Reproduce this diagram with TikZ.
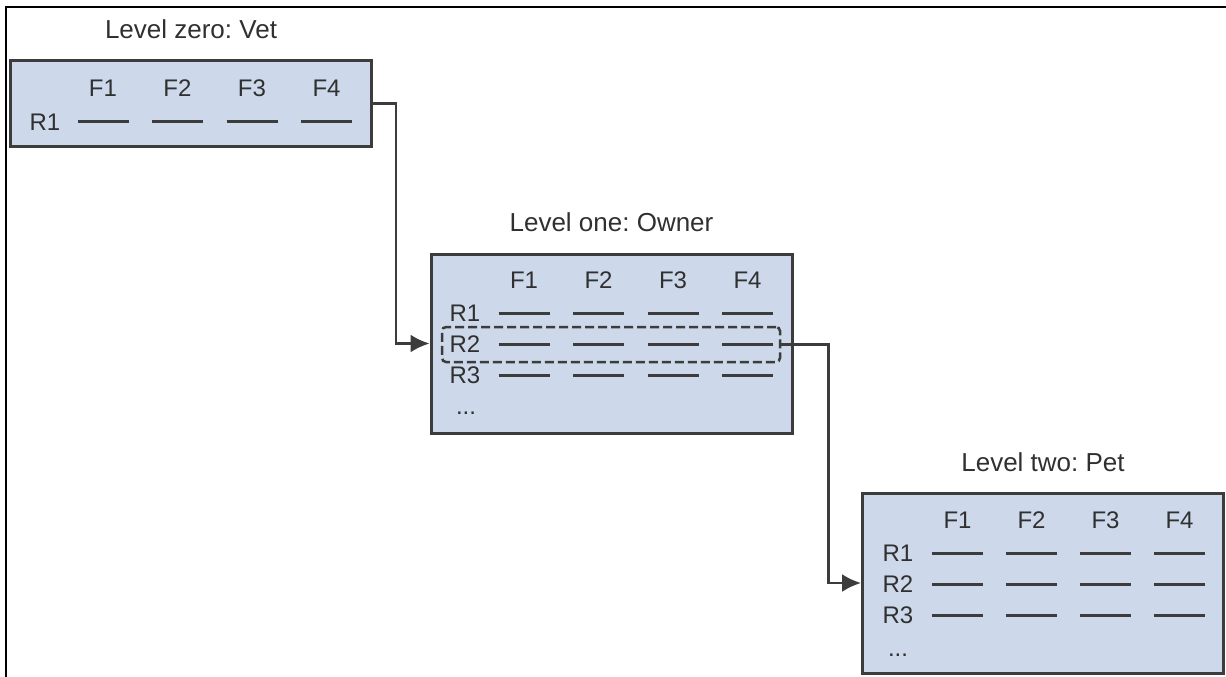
\documentclass[tikz,border=0pt]{standalone}
\usepackage{fontspec}
\setmainfont{Liberation Sans}
\usetikzlibrary{arrows.meta,positioning}
\definecolor{boxfill}{HTML}{CDD9EA}
\definecolor{boxline}{HTML}{3C3C3C}
\definecolor{txt}{HTML}{303030}
\tikzset{
  level/.style={draw=boxline, fill=boxfill, line width=3pt, minimum width=361pt, inner sep=0pt},
  title/.style={text=txt, font=\fontsize{26}{30}\selectfont, anchor=base},
  lbl/.style={text=txt, font=\fontsize{24}{28}\selectfont, inner sep=0pt},
  field/.style={draw=boxline, line width=3pt},
  pick/.style={draw=boxline, line width=2.5pt, dash pattern=on 9pt off 4pt, rounded corners=4pt, minimum width=338pt, minimum height=35pt, inner sep=0pt},
  link/.style={draw=boxline, line width=2.5pt, -{Latex[length=19pt,width=18pt]}}
}
\begin{document}
\frenchspacing
\begin{tikzpicture}[x=1pt,y=-1pt]
\useasboundingbox (0,0) rectangle (1226,677);
\draw[line width=2.5pt] (6,677) -- (6,7) -- (1226,7);

\node[level, minimum height=85pt] (vet) at (191,103.5) {};
\node[level, minimum height=179pt] (owner) at (611.5,343.5) {};
\node[level, minimum height=180pt] (pet) at (1043,583) {};

\node[title] (vettitle) at (191,39) {Level zero: Vet};
\node[title] (ownertitle) at (611.5,231) {Level one: Owner};
\node[title] (pettitle) at (1043,471) {Level two: Pet};

\node[lbl] (vetR1) at (45,122) {R1};
\foreach \i in {1,...,4} {
  \node[lbl] (vetF\i) at (28.5+74.5*\i,88) {F\i};
  \draw[field] (3+74.5*\i,121) -- (54+74.5*\i,121);
}

\node[pick] (sel) at (611,344.5) {};
\foreach \j in {1,2,3} {
  \node[lbl] (ownerR\j) at (465,282+31*\j) {R\j};
  \foreach \i in {1,...,4}
    \draw[field] (424+74.5*\i,282+31*\j) -- (475+74.5*\i,282+31*\j);
}
\foreach \i in {1,...,4}
  \node[lbl] (ownerF\i) at (449.5+74.5*\i,280) {F\i};
\node[lbl] (ownerdots) at (466,413) {...};

\foreach \j in {1,2,3} {
  \node[lbl] (petR\j) at (898,522+31*\j) {R\j};
  \foreach \i in {1,...,4}
    \draw[field] (857.5+74*\i,522+31*\j) -- (908.5+74*\i,522+31*\j);
}
\foreach \i in {1,...,4}
  \node[lbl] (petF\i) at (883.5+74*\i,520) {F\i};
\node[lbl] (petdots) at (898,655) {...};

\draw[link] (vet.east) -- ++(23,0) |- (owner.west);
\draw[link] (sel.east) -- ++(47,0) |- (pet.west);
\end{tikzpicture}
\end{document}
